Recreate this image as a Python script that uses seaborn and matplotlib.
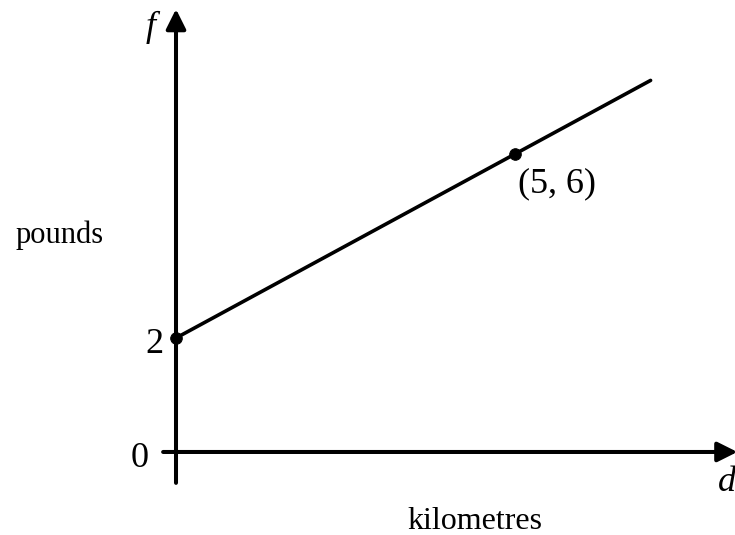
import numpy as np
import pandas as pd
import matplotlib
matplotlib.use('Agg')
import matplotlib.pyplot as plt
import seaborn as sns

# 数据：f = 2 + 0.8 d （示意图，纵轴不按比例）
d_pts = [0, 5]
f_pts = [2, 6]
d_line = [0, 7]
f_line = [2, 7.6]
pt_label = '(5, 6)'
y_ticks = ['0', '2']

sns.set_theme(style='white')
plt.rcParams['font.family'] = ['Liberation Serif', 'DejaVu Serif']
plt.rcParams['text.color'] = 'black'

fig = plt.figure(figsize=(7.35, 5.35), dpi=100)
ax = fig.add_axes([0, 0, 1, 1])
ax.set_xlim(-2.596, 8.245)
ax.set_ylim(-2.283, 9.348)
ax.axis('off')

# 横轴画在 0 的示意位置
x_axis_y = -0.478

# 坐标轴（带箭头）
arrow = dict(arrowstyle='-|>', lw=2.9, color='black', mutation_scale=30,
             shrinkA=0, shrinkB=0)
ax.annotate('', xy=(0, 9.15), xytext=(0, -1.15), arrowprops=arrow,
            annotation_clip=False)
ax.annotate('', xy=(8.28, x_axis_y), xytext=(-0.19, x_axis_y), arrowprops=arrow,
            annotation_clip=False)

# 直线和两个点
line_df = pd.DataFrame({'d': d_line, 'f': f_line})
pts_df = pd.DataFrame({'d': d_pts, 'f': f_pts})
sns.lineplot(data=line_df, x='d', y='f', color='black', lw=2.6, ax=ax)
sns.scatterplot(data=pts_df, x='d', y='f', color='black', s=70,
                edgecolor='black', zorder=5, ax=ax)

# 文字
ax.text(-0.38, 8.76, 'f', fontsize=26, style='italic', ha='center', va='center')
ax.text(8.13, -1.15, 'd', fontsize=26, style='italic', ha='center', va='center')
ax.text(-0.19, 1.67, y_ticks[1], fontsize=26, ha='right', va='baseline')
ax.text(-0.41, -0.80, y_ticks[0], fontsize=26, ha='right', va='baseline')
ax.text(5.04, 5.17, pt_label, fontsize=26, ha='left', va='baseline')
ax.text(-2.37, 4.07, 'pounds', fontsize=22, ha='left', va='baseline')
ax.text(3.42, -2.15, 'kilometres', fontsize=23, ha='left', va='baseline')

plt.savefig('out.png', dpi=100)
